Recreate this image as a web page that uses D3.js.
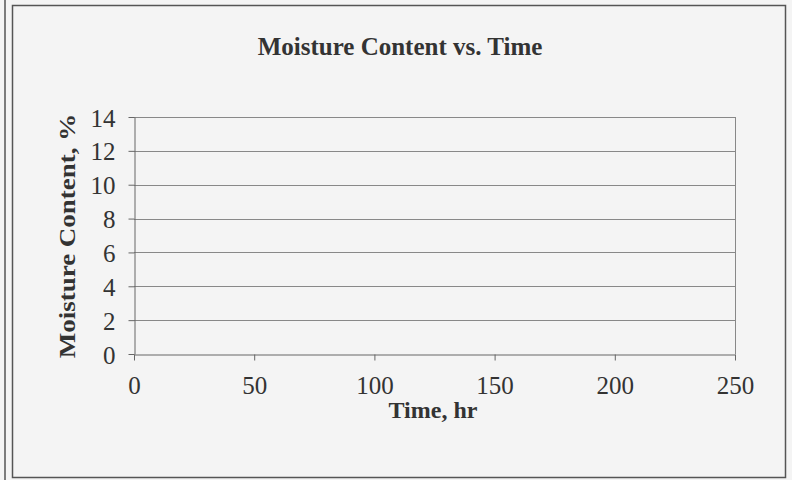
<!DOCTYPE html>
<meta charset="utf-8">
<script src="https://d3js.org/d3.v7.min.js"></script>
<style>
  body { margin: 0; background: #f4f4f4; }
  text { font-family: "Liberation Serif", "Times New Roman", serif; fill: #333; }
  .tick text { font-size: 25px; }
  .domain { stroke: #666; }
  .tick line { stroke: #666; }
</style>
<body>
<svg id="chart" width="792" height="480"></svg>
<script>
  // chart data (no series drawn in the original, only the empty frame)
  var xTicks = [0, 50, 100, 150, 200, 250];
  var yTicks = [0, 2, 4, 6, 8, 10, 12, 14];
  var title = "Moisture Content vs. Time";
  var xTitle = "Time, hr";
  var yTitle = "Moisture Content, %";

  var svg = d3.select("#chart");
  var margin = { left: 134, right: 57, top: 117, bottom: 126 };
  var width = 792, height = 480;

  // outer frame like the scanned page
  svg.append("rect").attr("x", 0).attr("y", 0).attr("width", width).attr("height", height).attr("fill", "#f4f4f4");
  svg.append("line").attr("x1", 5).attr("x2", 5).attr("y1", 0).attr("y2", 480).attr("stroke", "#555").attr("stroke-width", 1.5);
  svg.append("rect").attr("x", 12.5).attr("y", 5.5).attr("width", 773).attr("height", 472)
    .attr("fill", "none").attr("stroke", "#555").attr("stroke-width", 1.5);

  var x = d3.scaleLinear().domain([0, 250]).range([margin.left, width - margin.right]);
  var y = d3.scaleLinear().domain([0, 14]).range([height - margin.bottom, margin.top]);

  // grid lines
  svg.append("g")
    .selectAll("line")
    .data(yTicks.filter(function (d) { return d > 0; }))
    .enter()
    .append("line")
    .attr("x1", x(0)).attr("x2", x(250))
    .attr("y1", function (d) { return Math.round(y(d)) + 0.5; })
    .attr("y2", function (d) { return Math.round(y(d)) + 0.5; })
    .attr("stroke", "#888");

  // plot border on the right
  svg.append("line")
    .attr("x1", x(250) + 0.5).attr("x2", x(250) + 0.5)
    .attr("y1", y(14)).attr("y2", y(0))
    .attr("stroke", "#888");

  // axes
  svg.append("g")
    .attr("transform", "translate(0," + (Math.round(y(0)) + 0.5) + ")")
    .call(d3.axisBottom(x).tickValues(xTicks).tickSize(6).tickSizeOuter(0).tickPadding(16))
    .call(function (g) { g.selectAll(".tick text").attr("dy", "0.71em"); });

  svg.append("g")
    .attr("transform", "translate(" + (Math.round(x(0)) + 0.5) + ",0)")
    .call(d3.axisLeft(y).tickValues(yTicks).tickSize(6).tickSizeOuter(0).tickPadding(13))
    .call(function (g) { g.selectAll(".tick text").attr("dy", "0.36em"); });

  // titles
  svg.append("text")
    .attr("x", 400).attr("y", 55)
    .attr("text-anchor", "middle")
    .style("font-size", "25px").style("font-weight", "bold")
    .text(title);

  svg.append("text")
    .attr("x", 433).attr("y", 418)
    .attr("text-anchor", "middle")
    .style("font-size", "24px").style("font-weight", "bold")
    .text(xTitle);

  svg.append("text")
    .attr("transform", "translate(75," + 236 + ") rotate(-90) scale(1,0.82)")
    .attr("text-anchor", "middle")
    .style("font-size", "27px").style("font-weight", "bold")
    .text(yTitle);
</script>
</body>
